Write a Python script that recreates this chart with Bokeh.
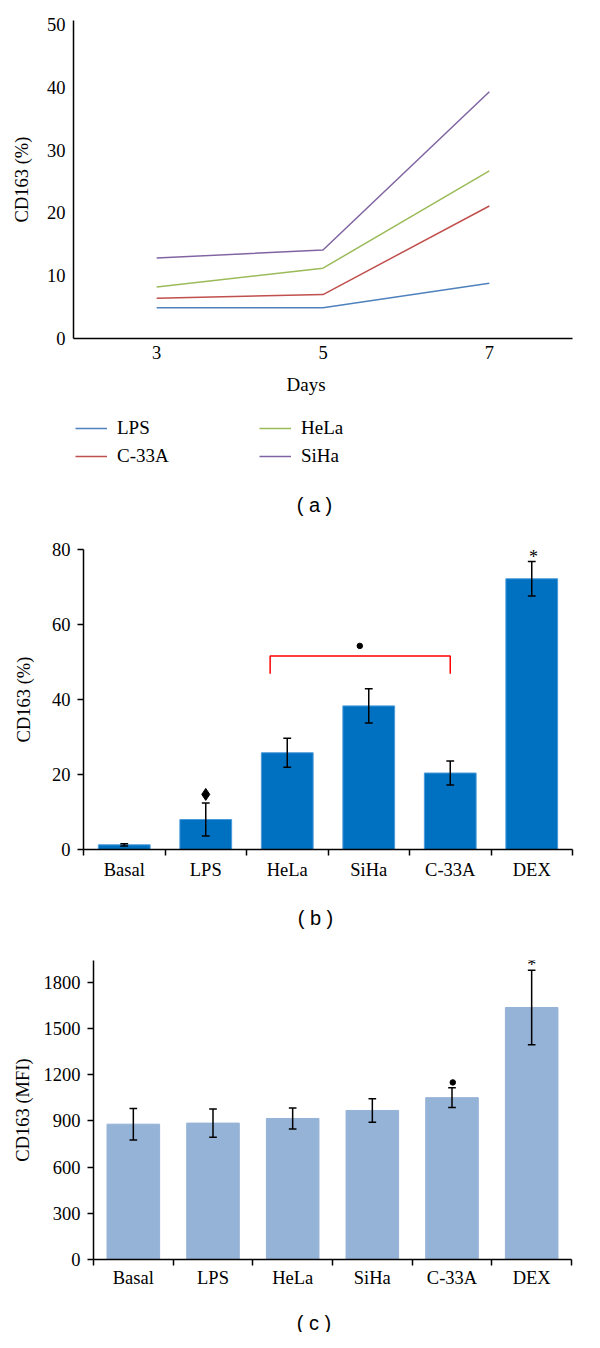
from bokeh.plotting import figure
from bokeh.models import FixedTicker, Legend, LegendItem, Range1d
from bokeh.layouts import column
from bokeh.embed import file_html
from bokeh.resources import INLINE
from bokeh.core.properties import value

# ---------------- data: panel (a) ----------------
days = [3, 5, 7]
series_names = ["LPS", "C-33A", "HeLa", "SiHa"]
lps_pct = [4.9, 4.9, 8.8]
c33a_pct = [6.4, 7.0, 21.1]
hela_pct = [8.2, 11.2, 26.7]
siha_pct = [12.8, 14.1, 39.3]
series_colors = ["#4F81BD", "#C0504D", "#9BBB59", "#8064A2"]

# ---------------- data: panel (b) ----------------
groups = ["Basal", "LPS", "HeLa", "SiHa", "C-33A", "DEX"]
pct_mean = [1.25, 8.0, 25.8, 38.3, 20.4, 72.2]
pct_err = [0.3, 4.4, 3.85, 4.55, 3.2, 4.6]

# ---------------- data: panel (c) ----------------
mfi_mean = [878, 885, 915, 967, 1050, 1635]
mfi_err = [102, 91, 68, 76, 64, 241]

SERIF = "Liberation Serif"
SANS = "Liberation Sans"
TICK_FS = "18.5px"
W = 584


def base_axes(p, ylabel, yticks, ytick_out):
    for ax in p.axis:
        ax.axis_line_color = "black"
        ax.axis_line_width = 1.5
        ax.major_label_text_font = SERIF
        ax.major_label_text_font_size = TICK_FS
        ax.major_label_text_color = "black"
        ax.axis_label_text_font = SERIF
        ax.axis_label_text_font_size = TICK_FS
        ax.axis_label_text_font_style = "normal"
        ax.axis_label_text_color = "black"
        ax.major_tick_line_color = "black"
        ax.major_tick_line_width = 1.5
        ax.major_tick_in = 0
        ax.minor_tick_in = 0
    p.yaxis.ticker = FixedTicker(ticks=yticks, minor_ticks=[])
    p.yaxis.major_tick_out = ytick_out
    p.yaxis.axis_label = ylabel
    p.xgrid.visible = False
    p.ygrid.visible = False
    p.outline_line_color = None


def strip(height):
    """A blank figure whose frame covers it entirely; data units = pixels (y from bottom)."""
    s = figure(width=W, height=height, x_range=Range1d(0, W), y_range=Range1d(0, height),
               x_axis_type=None, y_axis_type=None, output_backend="svg", toolbar_location=None,
               min_border_left=0, min_border_right=0, min_border_top=0, min_border_bottom=0,
               frame_align=False)
    s.xgrid.visible = False
    s.ygrid.visible = False
    s.outline_line_color = None
    return s


def put_text(s, x, y, txt, font, size):
    s.text(x=[x], y=[y], text=[txt], text_align="center", text_baseline="middle",
           text_font=value(font), text_font_size=size, text_color="black")


# ---------------- panel (a): line chart ----------------
pa = figure(width=W, height=370, x_range=Range1d(2, 8), y_range=Range1d(0, 50.64),
            output_backend="svg", toolbar_location=None, frame_align=False,
            min_border_left=73, min_border_right=12, min_border_top=20, min_border_bottom=32)
base_axes(pa, "CD163 (%)", list(range(0, 51, 10)), 0)
pa.xaxis.ticker = FixedTicker(ticks=days, minor_ticks=[])
pa.xaxis.major_tick_out = 0
pa.xaxis.major_label_standoff = 7
pa.yaxis.major_label_standoff = 8
pa.yaxis.axis_label_standoff = 12

for vals, col in zip([lps_pct, c33a_pct, hela_pct, siha_pct], series_colors):
    pa.line(days, vals, line_color=col, line_width=1.5)

# ---------------- panel (a): axis title, legend, caption ----------------
sa = strip(166)
put_text(sa, 305.6, 152, "Days", SERIF, "19px")
leg_renderers = [sa.line(x=[-100, -99], y=[-100, -99], line_color=c, line_width=1.5) for c in series_colors]
legend = Legend(items=[LegendItem(label=n, renderers=[r]) for n, r in zip(series_names, leg_renderers)],
                location=(75, 69), orientation="vertical", nrows=2,
                label_text_font=SERIF, label_text_font_size="19px", label_text_color="black",
                glyph_width=32, glyph_height=20, label_standoff=10, label_width=136,
                label_height=20, spacing=6, padding=0, margin=0,
                border_line_color=None, background_fill_alpha=0)
sa.add_layout(legend)
put_text(sa, 314, 32, "( a )", SANS, "20px")

# ---------------- panels (b), (c): bar charts ----------------
xb = [i + 0.5 for i in range(len(groups))]
bounds = list(range(len(groups) + 1))


def bar_panel(height, ylim, mean, err, color, line_color, bar_w, yticks, ylabel, mb):
    p = figure(width=W, height=height, x_range=Range1d(0, len(groups)), y_range=Range1d(0, ylim),
               output_backend="svg", toolbar_location=None, frame_align=False, **mb)
    base_axes(p, ylabel, yticks, 6)
    p.vbar(x=xb, top=mean, width=bar_w, fill_color=color, line_color=line_color, line_width=1)
    up = [m + e for m, e in zip(mean, err)]
    lo = [m - e for m, e in zip(mean, err)]
    p.segment(x0=xb, y0=lo, x1=xb, y1=up, line_color="black", line_width=1.5)
    cw = 0.048
    p.segment(x0=[x - cw for x in xb], y0=up, x1=[x + cw for x in xb], y1=up, line_color="black", line_width=1.5)
    p.segment(x0=[x - cw for x in xb], y0=lo, x1=[x + cw for x in xb], y1=lo, line_color="black", line_width=1.5)
    p.xaxis.ticker = FixedTicker(ticks=xb, minor_ticks=bounds)
    p.xaxis.major_label_overrides = {x: g for x, g in zip(xb, groups)}
    p.xaxis.major_tick_out = 0
    p.xaxis.minor_tick_out = 6
    p.xaxis.minor_tick_line_color = "black"
    p.xaxis.minor_tick_line_width = 1.5
    p.yaxis.major_label_standoff = 7
    return p, up


pb, up_b = bar_panel(356, 80, pct_mean, pct_err, "#0070C0", "#4A9BDB", 0.635,
                     list(range(0, 81, 20)), "CD163 (%)",
                     dict(min_border_left=83, min_border_right=12, min_border_top=13, min_border_bottom=43))
pb.xaxis.major_label_standoff = 4
pb.yaxis.axis_label_standoff = 15
# significance marks
bracket_x = [2.29, 2.29, 4.5, 4.5]
bracket_y = [46.9, 51.6, 51.6, 46.9]
pb.line(bracket_x, bracket_y, line_color="#FF0000", line_width=1.5)
pb.scatter([3.39], [54.3], marker="circle", size=5.5, fill_color="black", line_color="black")
pb.scatter([1.5], [14.7], marker="diamond", size=12, fill_color="black", line_color="black")
pb.text(x=[5.52], y=[up_b[5]], text=["*"], text_align="center", text_baseline="alphabetic",
        y_offset=-5, text_font=value(SERIF), text_font_size="18px", text_color="black")

sb = strip(44)
put_text(sb, 315, 19, "( b )", SANS, "20px")

pc, up_c = bar_panel(356, 1940, mfi_mean, mfi_err, "#95B3D7", "#95B3D7", 0.66,
                     list(range(0, 1801, 300)), "CD163 (MFI)",
                     dict(min_border_left=93, min_border_right=13, min_border_top=24, min_border_bottom=33))
pc.xaxis.major_label_standoff = 2
pc.yaxis.axis_label_standoff = 8
pc.scatter([4.51], [1149], marker="circle", size=5.5, fill_color="black", line_color="black")
pc.text(x=[5.5], y=[up_c[5]], text=["*"], text_align="center", text_baseline="alphabetic",
        y_offset=-5, text_font=value(SERIF), text_font_size="18px", text_color="black")

sc = strip(40)
put_text(sc, 313.5, 10, "( c )", SANS, "20px")

layout = column(pa, sa, pb, sb, pc, sc)
open("out.html", "w").write(file_html(layout, INLINE))
